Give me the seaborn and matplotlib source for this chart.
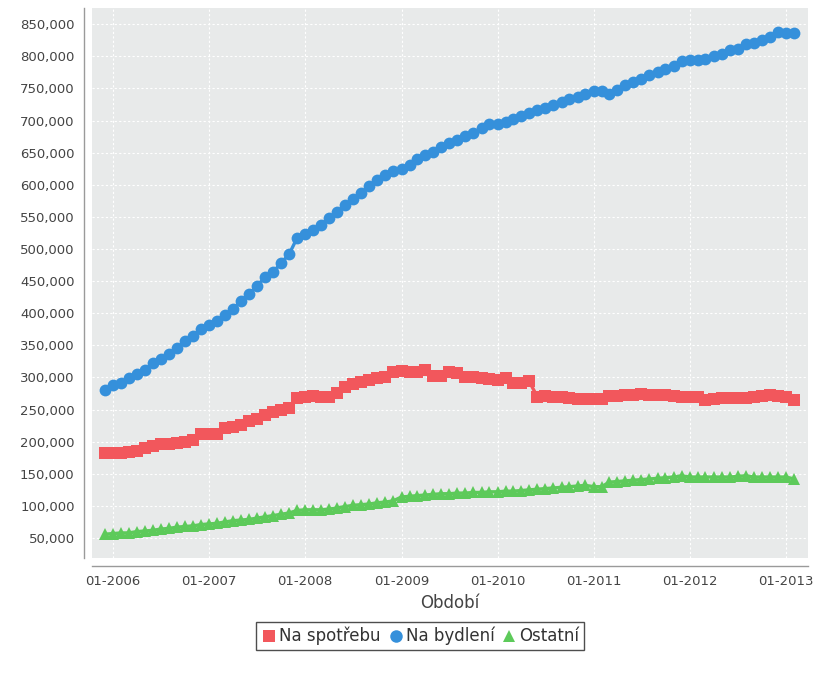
import pandas as pd
import numpy as np
import matplotlib
matplotlib.use("Agg")
import matplotlib.pyplot as plt
import matplotlib.dates as mdates
from matplotlib.ticker import FuncFormatter
from matplotlib.lines import Line2D
import seaborn as sns

# monthly values (thousands), 12-2005 .. 02-2013
start_month = "2005-12-01"

na_spotrebu = [182,
               182, 182, 184, 185, 190, 194, 196, 197, 198, 200, 202, 212,
               212, 212, 221, 223, 226, 233, 236, 241, 246, 249, 252, 268,
               270, 271, 269, 270, 276, 285, 290, 293, 296, 299, 300, 309,
               310, 309, 308, 312, 303, 303, 308, 307, 300, 300, 299, 298,
               296, 299, 292, 292, 294, 270, 271, 270, 269, 268, 267, 266,
               266, 267, 271, 271, 272, 273, 275, 273, 272, 272, 271, 270,
               270, 269, 265, 267, 268, 268, 268, 268, 269, 271, 272, 271,
               269, 265]

na_bydleni = [281,
              288, 292, 299, 305, 311, 322, 328, 337, 346, 356, 365, 376,
              381, 388, 398, 406, 419, 430, 442, 456, 464, 478, 492, 517,
              524, 530, 538, 548, 557, 568, 578, 587, 598, 607, 615, 621,
              625, 630, 640, 646, 651, 659, 665, 670, 676, 681, 688, 695,
              694, 698, 702, 707, 711, 716, 720, 724, 729, 733, 737, 742,
              746, 746, 742, 748, 755, 760, 765, 771, 776, 780, 785, 792,
              795, 795, 796, 800, 804, 810, 812, 819, 821, 825, 830, 838,
              837, 837]

ostatni = [56,
           57, 58, 58, 60, 61, 62, 64, 65, 67, 68, 69, 71,
           72, 73, 75, 77, 78, 79, 81, 83, 85, 87, 89, 93,
           94, 94, 94, 95, 97, 99, 101, 102, 103, 105, 106, 108,
           114, 115, 116, 117, 118, 119, 119, 120, 120, 121, 121, 122,
           122, 123, 123, 124, 125, 126, 127, 128, 129, 130, 131, 132,
           130, 130, 137, 138, 139, 140, 141, 142, 143, 144, 145, 147,
           145, 145, 145, 145, 145, 145, 146, 147, 145, 145, 145, 145,
           145, 142]

series_names = ["Na spotřebu", "Na bydlení", "Ostatní"]
colors = {"Na spotřebu": "#f2575c", "Na bydlení": "#3590db", "Ostatní": "#5dca5a"}
markers = {"Na spotřebu": "s", "Na bydlení": "o", "Ostatní": "^"}
msizes = {"Na spotřebu": 9, "Na bydlení": 8.5, "Ostatní": 8.5}

months = pd.date_range(start_month, periods=len(na_bydleni), freq="MS")
df = pd.DataFrame({"Období": months,
                   "Na spotřebu": np.array(na_spotrebu) * 1000,
                   "Na bydlení": np.array(na_bydleni) * 1000,
                   "Ostatní": np.array(ostatni) * 1000})

sns.set_theme(style="white")
plt.rcParams["font.family"] = ["DejaVu Sans"]

fig = plt.figure(figsize=(8.32, 6.76), dpi=100)
ax = fig.add_axes([0.1106, 0.1746, 0.8604, 0.8134])
ax.set_facecolor("#e8eaea")

for name in series_names:
    sns.lineplot(data=df, x="Období", y=name, color=colors[name],
                 marker=markers[name], markersize=msizes[name],
                 markeredgewidth=0, linewidth=2.4, ax=ax, zorder=3)

ax.set_xlim(pd.Timestamp("2005-10-13"), pd.Timestamp("2013-03-25"))
ax.set_ylim(19000, 875000)
ax.set_yticks(np.arange(50000, 850001, 50000))
ax.yaxis.set_major_formatter(FuncFormatter(lambda v, p: f"{v:,.0f}"))
ax.xaxis.set_major_locator(mdates.YearLocator())
ax.xaxis.set_major_formatter(mdates.DateFormatter("%m-%Y"))

ax.grid(True, color="white", linestyle=(0, (2, 2)), linewidth=0.8)
ax.set_axisbelow(True)

for s in ["top", "right"]:
    ax.spines[s].set_visible(False)
for s in ["left", "bottom"]:
    ax.spines[s].set_position(("outward", 6))
    ax.spines[s].set_color("#9a9a9a")
    ax.spines[s].set_linewidth(1.0)

ax.tick_params(axis="both", which="major", direction="out", length=3,
               color="#9a9a9a", labelsize=9.5, labelcolor="#444444")
ax.set_xlabel("Období", fontsize=12, color="#444444", labelpad=4)
ax.set_ylabel("")

handles = [Line2D([0], [0], marker=markers[n], color=colors[n], linestyle="none",
                  markersize=9, markeredgewidth=0) for n in series_names]
fig.legend(handles, series_names, loc="center", bbox_to_anchor=(0.505, 0.059),
           ncol=3, frameon=True, fancybox=False, edgecolor="#222222",
           fontsize=12, handletextpad=0.1, columnspacing=0.4,
           borderpad=0.3, handlelength=1.0, labelcolor="#333333")

fig.savefig("out.png", dpi=100)
